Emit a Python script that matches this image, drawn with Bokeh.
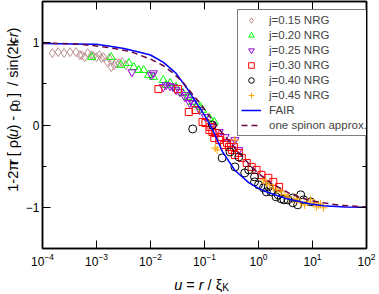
import math
from bokeh.plotting import figure
from bokeh.layouts import row, column
from bokeh.models import (LogAxis, LinearAxis, FixedTicker, Legend,
                          LegendItem, LogTickFormatter)
from bokeh.core.properties import value
from bokeh.embed import file_html
from bokeh.resources import INLINE

# ---------------- data ----------------
u15 = [1.52e-4, 1.95e-4, 2.51e-4, 3.23e-4, 4.15e-4, 4.91e-4, 5.33e-4, 6.05e-4,
       6.85e-4, 8.11e-4, 8.81e-4, 1.0e-3, 1.135e-3, 1.233e-3, 1.34e-3, 1.585e-3,
       1.72e-3, 1.875e-3, 2.12e-3, 2.31e-3, 2.62e-3, 2.97e-3, 3.51e-3]
y15 = [0.873, 0.885, 0.873, 0.885, 0.885, 0.848, 0.848, 0.824, 0.873, 0.848,
       0.836, 0.824, 0.848, 0.812, 0.824, 0.764, 0.812, 0.703, 0.727, 0.752,
       0.752, 0.764, 0.727]

u20 = [8.11e-4, 1.875e-3, 2.85e-3, 3.98e-3, 4.91e-3, 6.05e-3, 7.46e-3, 9.2e-3,
       1.135e-2, 1.72e-2, 1.95e-2, 2.31e-2, 2.97e-2, 3.98e-2, 4.91e-2, 6.05e-2,
       7.46e-2, 8.45e-2, 9.2e-2, 1.233e-1, 1.52e-1]
y20 = [0.824, 0.824, 0.727, 0.752, 0.703, 0.667, 0.667, 0.606, 0.582, 0.545,
       0.485, 0.509, 0.461, 0.388, 0.339, 0.279, 0.242, 0.218, 0.182, 0.085, 0.036]

u25 = [4.52e-3, 1.04e-2, 1.135e-2, 1.72e-2, 1.95e-2, 2.31e-2, 2.62e-2, 2.97e-2,
       3.51e-2, 4.33e-2, 4.52e-2, 5.33e-2, 5.56e-2, 6.05e-2, 8.11e-2, 1.04e-1,
       1.4e-1, 1.875e-1, 2.41e-1, 3.23e-1, 3.66e-1, 4.33e-1]
y25 = [0.642, 0.606, 0.630, 0.461, 0.485, 0.473, 0.461, 0.424, 0.400, 0.339,
       0.364, 0.267, 0.303, 0.267, 0.182, 0.097, -0.024, -0.085, -0.145, -0.218,
       -0.182, -0.303]

u30 = [1.4e-2, 3.23e-2, 5.12e-2, 6.85e-2, 9.2e-2, 1.04e-1, 1.233e-1, 1.285e-1,
       1.4e-1, 1.52e-1, 1.585e-1, 1.875e-1, 1.955e-1, 2.31e-1, 2.62e-1, 2.85e-1,
       3.23e-1, 3.51e-1, 3.66e-1, 4.33e-1, 4.91e-1, 6.05e-1, 7.46e-1, 9.2e-1,
       1.135, 1.52, 1.875, 2.41]
y30 = [0.436, 0.436, 0.158, 0.182, 0.036, 0.024, -0.061, -0.024, -0.085, -0.158,
       -0.097, -0.182, -0.145, -0.242, -0.218, -0.267, -0.303, -0.267, -0.364,
       -0.339, -0.400, -0.461, -0.509, -0.545, -0.606, -0.642, -0.691, -0.752]

u40 = [6.05e-2, 0.14, 0.212, 0.297, 0.366, 0.433, 0.556, 0.658, 0.845, 0.845,
       1.0, 1.233, 1.396, 1.52, 1.72, 2.12, 2.31, 2.62, 2.97, 3.51, 4.33, 4.33,
       5.33, 6.05, 6.85, 9.2]
y40 = [-0.048, 0.0, -0.400, -0.327, -0.509, -0.388, -0.582, -0.545, -0.630,
       -0.691, -0.727, -0.764, -0.812, -0.752, -0.812, -0.873, -0.848, -0.897,
       -0.909, -0.909, -0.885, -0.945, -0.970, -0.848, -0.909, -0.933]

u45 = [0.158, 0.172, 0.366, 1.233, 1.396, 1.585, 1.875, 2.21, 2.62, 3.1, 3.51,
       4.52, 5.12, 6.05, 7.16, 8.11, 9.2, 10.4, 11.8, 12.85, 14.0, 15.85]
y45 = [-0.279, -0.303, -0.182, -0.667, -0.703, -0.727, -0.764, -0.788, -0.812,
       -0.848, -0.873, -0.909, -0.897, -0.945, -0.970, -0.933, -0.909, -0.945,
       -0.994, -0.970, -0.958, -1.006]

fair_u = [1e-4, 3.98e-4, 1e-3, 1.66e-3, 3.24e-3, 6.6e-3, 1e-2, 1.74e-2, 2.95e-2,
          4.68e-2, 6.9e-2, 0.1, 0.14, 0.214, 0.363, 0.66, 1.0, 1.51, 3.5, 9.1,
          15.8, 39.8, 100.0]
fair_y = [0.99, 0.985, 0.98, 0.96, 0.93, 0.88, 0.85, 0.76, 0.63, 0.45, 0.28,
          0.12, -0.05, -0.32, -0.55, -0.70, -0.77, -0.82, -0.90, -0.96, -0.98,
          -0.995, -1.0]

spin_u = [1e-4, 3.98e-4, 1e-3, 2.14e-3, 4.37e-3, 1e-2, 1.74e-2, 2.63e-2, 3.98e-2,
          6.03e-2, 8.13e-2, 0.123, 0.214, 0.363, 0.66, 1.0, 1.74, 3.98, 9.12,
          31.6, 100.0]
spin_y = [0.995, 0.985, 0.96, 0.93, 0.89, 0.80, 0.72, 0.63, 0.52, 0.37, 0.27,
          0.11, -0.10, -0.28, -0.47, -0.59, -0.71, -0.84, -0.92, -0.975, -0.995]

series_labels = ["j=0.15 NRG", "j=0.20 NRG", "j=0.25 NRG", "j=0.30 NRG",
                 "j=0.40 NRG", "j=0.45 NRG"]
line_labels = ["FAIR", "one spinon approx."]

x_ticks = [1e-4, 1e-3, 1e-2, 1e-1, 1.0, 10.0, 100.0]
y_ticks = [-1, 0, 1]
y_minor = [-0.5, 0.5]

FONT = "Liberation Sans"

# ---------------- main figure ----------------
p = figure(width=355, height=270, x_axis_type="log",
           x_range=(1e-4, 1e2), y_range=(-1.5, 1.5),
           output_backend="svg", toolbar_location=None,
           min_border_left=14, min_border_right=11,
           min_border_top=1, min_border_bottom=22)
p.xgrid.visible = False
p.ygrid.visible = False
p.outline_line_color = "black"
p.outline_line_width = 1.5
p.background_fill_color = "white"
p.border_fill_color = "white"

p.add_layout(LogAxis(), "above")
p.add_layout(LinearAxis(), "right")

for ax in p.xaxis:
    ax.ticker = FixedTicker(ticks=x_ticks, minor_ticks=[])
    ax.formatter = LogTickFormatter()
for ax in p.yaxis:
    ax.ticker = FixedTicker(ticks=y_ticks, minor_ticks=y_minor)
for ax in p.xaxis + p.yaxis:
    ax.axis_line_color = "black"
    ax.axis_line_width = 1.5
    ax.major_tick_in = 8
    ax.major_tick_out = 0
    ax.minor_tick_in = 4
    ax.minor_tick_out = 0
    ax.major_tick_line_color = "black"
    ax.minor_tick_line_color = "black"
    ax.major_label_text_font = FONT
    ax.major_label_text_font_size = "12px"
    ax.major_label_text_color = "black"
p.below[0].major_label_standoff = 4
p.left[0].major_label_standoff = 3
for ax in (p.above[0], p.right[0]):
    ax.major_label_text_font_size = "1px"
    ax.major_label_text_alpha = 0
    ax.major_label_standoff = 0

# ---------------- data glyphs ----------------
r15 = p.scatter(u15, y15, marker="diamond", size=9,
                fill_color=None, line_color="#bc8f8f", line_width=1)
r20 = p.scatter(u20, y20, marker="triangle", size=8,
                fill_color=None, line_color="#00ff00", line_width=1)
r25 = p.scatter(u25, y25, marker="inverted_triangle", size=8,
                fill_color=None, line_color="#9400d3", line_width=1)
r30 = p.scatter(u30, y30, marker="square", size=7,
                fill_color=None, line_color="#ff0000", line_width=1)
r40 = p.scatter(u40, y40, marker="circle", size=8,
                fill_color=None, line_color="black", line_width=1)
r45 = p.scatter(u45, y45, marker="cross", size=8,
                line_color="#ffa500", line_width=1)
rf = p.line(fair_u, fair_y, line_color="#0000ff", line_width=1.5)
rs = p.line(spin_u, spin_y, line_color="#670748", line_width=1.5,
            line_dash="6 4")

items = [LegendItem(label=lab, renderers=[r]) for lab, r in
         zip(series_labels + line_labels, [r15, r20, r25, r30, r40, r45, rf, rs])]
legend = Legend(items=items, location=(195, 112))
legend.label_text_font = FONT
legend.label_text_font_size = "11.5px"
legend.label_height = 14
legend.glyph_height = 14
legend.glyph_width = 20
legend.label_standoff = 8
legend.spacing = 1
legend.padding = 3
legend.margin = 0
legend.border_line_color = "black"
legend.border_line_width = 1.5
legend.background_fill_color = "white"
legend.background_fill_alpha = 1.0
p.add_layout(legend)

# ---------------- axis titles (rich text built from pieces) ----------------
W = {'1': .556, '-': .333, '2': .556, 'π': .62, 'r': .333, ' ': .278, '[': .278,
     'ρ': .57, '(': .333, 'u': .556, ')': .333, '0': .556, ']': .278, '/': .278,
     's': .5, 'i': .222, 'n': .556, 'k': .5, 'F': .611, '=': .584, 'ξ': .45,
     'K': .667}
FS = 14.5
SUB = 10.0


def width(s, fs):
    return sum(W[c] for c in s) * fs


def pieces_layout(pieces):
    pos, out = 0.0, []
    for text, style, fs, gap, shift in pieces:
        pos += gap * FS
        out.append((text, style, fs, pos, shift))
        pos += width(text, fs)
    return out, pos


def label_figure(w, h):
    f = figure(width=w, height=h, x_range=(0, w), y_range=(0, h),
               output_backend="svg", toolbar_location=None,
               x_axis_location=None, y_axis_location=None, min_border=0)
    f.xgrid.visible = False
    f.ygrid.visible = False
    f.outline_line_color = None
    f.border_fill_color = "white"
    return f


def draw_pieces(f, lay, placer, angle):
    for text, style, fs, pos, shift in lay:
        x, y = placer(pos, shift)
        f.text(x=[x], y=[y], text=[text], angle=angle,
               text_font=value(FONT), text_font_style=style,
               text_font_size=f"{fs}px", text_color="black",
               text_baseline="alphabetic", text_align="left")


# y title: rotated, in its own strip left of the plot
yfig = label_figure(22, 270)
ylab = [("1-2π", "normal", FS, 0, 0), ("r", "italic", FS, 0, 0),
        ("[ ρ(", "normal", FS, 0.278, 0), ("u", "italic", FS, 0, 0),
        (") - ρ", "normal", FS, 0, 0), ("0", "normal", SUB, 0, 3),
        ("]", "normal", FS, 0.278, 0), ("/ sin(2k", "normal", FS, 0.556, 0),
        ("F", "normal", SUB, 0, 3), ("r", "italic", FS, 0.05, 0),
        (")", "normal", FS, 0, 0)]
lay, total = pieces_layout(ylab)
yc = 151.5
draw_pieces(yfig, lay, lambda pos, sh: (12 + sh, yc - total / 2 + pos), math.pi / 2)

# x title: strip below the plot
xfig = label_figure(377, 22)
xlab = [("u", "italic", FS, 0, 0), ("=", "normal", FS, 0.278, 0),
        ("r", "italic", FS, 0.278, 0), ("/ ξ", "normal", FS, 0.278, 0),
        ("K", "normal", SUB, 0, 2)]
lay, total = pieces_layout(xlab)
xc = 201.0
draw_pieces(xfig, lay, lambda pos, sh: (xc - total / 2 + pos, 7.5 - sh), 0.0)

layout = column(row(yfig, p), xfig)
open("out.html", "w").write(file_html(layout, INLINE))
